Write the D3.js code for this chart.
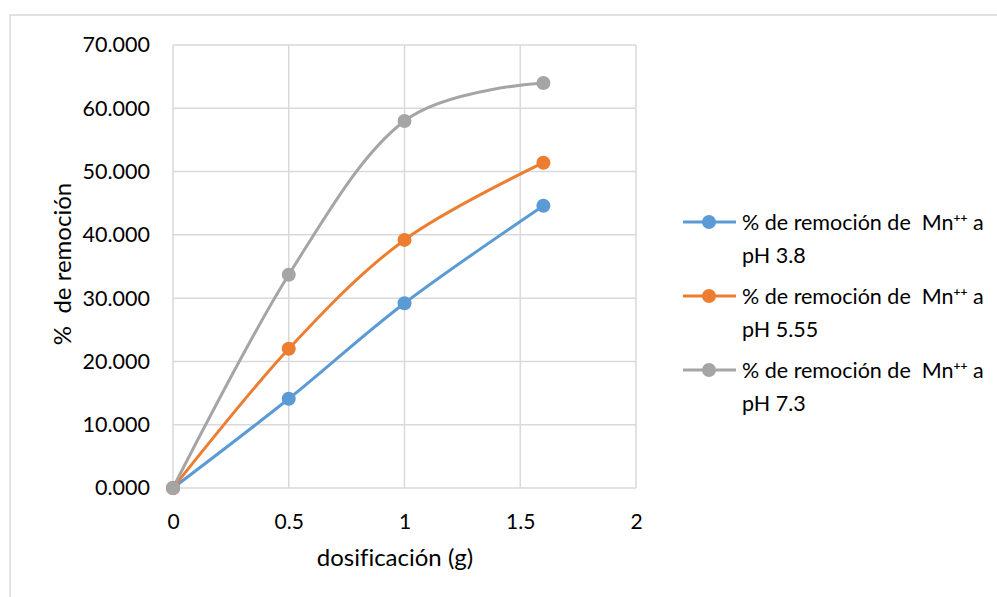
<!DOCTYPE html>
<html>
<head>
<meta charset="utf-8">
<script src="https://cdn.jsdelivr.net/npm/d3@7"></script>
<style>
  html, body { margin: 0; padding: 0; background: #fff; }
  svg { display: block; }
  text { font-family: Lato, "Liberation Sans", sans-serif; fill: #000; white-space: pre; font-variant-ligatures: none; }
</style>
</head>
<body>
<svg id="chart" width="997" height="597"></svg>
<script>
// Dose (g) applied in each trial
const dosis = [0, 0.5, 1, 1.6];

// Removal percentage of Mn++ for each pH
const remocionPH38 = [0, 14.1, 29.2, 44.6];
const remocionPH555 = [0, 22.0, 39.2, 51.4];
const remocionPH73 = [0, 33.7, 58.0, 64.0];

const seriesNames = ["pH 3.8", "pH 5.55", "pH 7.3"];
const seriesColors = ["#5B9BD5", "#ED7D31", "#A5A5A5"];

const xTicks = [0, 0.5, 1, 1.5, 2];
const yTicks = [0, 10, 20, 30, 40, 50, 60, 70];

const xTitle = "dosificación (g)";
const yTitle = "%  de remoción";

const series = [remocionPH38, remocionPH555, remocionPH73].map((vals, i) => ({
  name: seriesNames[i],
  color: seriesColors[i],
  points: dosis.map((d, j) => ({ x: d, y: vals[j] }))
}));

const svg = d3.select("#chart");

// outer chart frame (open to the right and bottom of the window)
svg.append("rect")
  .attr("x", 10).attr("y", 15)
  .attr("width", 1000).attr("height", 600)
  .attr("fill", "none")
  .attr("stroke", "#d9d9d9")
  .attr("stroke-width", 1.5);

const plot = { left: 173, right: 636, top: 45, bottom: 488 };

const x = d3.scaleLinear().domain([0, 2]).range([plot.left, plot.right]);
const y = d3.scaleLinear().domain([0, 70]).range([plot.bottom, plot.top]);

const grid = svg.append("g");
// vertical gridlines
grid.selectAll("line.v").data(xTicks).join("line")
  .attr("x1", d => x(d)).attr("x2", d => x(d))
  .attr("y1", plot.top).attr("y2", plot.bottom)
  .attr("stroke", "#d9d9d9").attr("stroke-width", 1.5);
// horizontal gridlines
grid.selectAll("line.h").data(yTicks).join("line")
  .attr("x1", plot.left).attr("x2", plot.right)
  .attr("y1", d => y(d)).attr("y2", d => y(d))
  .attr("stroke", "#d9d9d9").attr("stroke-width", 1.5);

// axes (labels only, lines come from the grid)
const xAxis = svg.append("g")
  .attr("transform", `translate(0,${plot.bottom})`)
  .call(d3.axisBottom(x).tickValues(xTicks).tickSize(0).tickPadding(26)
    .tickFormat(d => String(d)));
xAxis.select(".domain").remove();
xAxis.selectAll("text").style("font-size", "21px").attr("font-family", null);

const yAxis = svg.append("g")
  .attr("transform", `translate(${plot.left},0)`)
  .call(d3.axisLeft(y).tickValues(yTicks).tickSize(0).tickPadding(23)
    .tickFormat(d3.format(".3f")));
yAxis.select(".domain").remove();
yAxis.selectAll("text").style("font-size", "21.5px").attr("font-family", null);

// axis titles
svg.append("text")
  .attr("x", 395).attr("y", 566)
  .attr("text-anchor", "middle")
  .style("font-size", "24px")
  .text(xTitle);

svg.append("text")
  .attr("transform", "translate(71,264) rotate(-90)")
  .attr("text-anchor", "middle")
  .style("font-size", "24px")
  .text(yTitle);

// smoothed series lines
const line = d3.line()
  .x(d => x(d.x)).y(d => y(d.y))
  .curve(d3.curveCatmullRom.alpha(0));

const sg = svg.append("g");
series.forEach(s => {
  sg.append("path")
    .attr("d", line(s.points))
    .attr("fill", "none")
    .attr("stroke", s.color)
    .attr("stroke-width", 3)
    .attr("stroke-linecap", "round");
});
series.forEach(s => {
  sg.selectAll(null).data(s.points).join("circle")
    .attr("cx", d => x(d.x)).attr("cy", d => y(d.y))
    .attr("r", 7)
    .attr("fill", s.color);
});

// legend
const legend = svg.append("g");
series.forEach((s, i) => {
  const cy = 222 + i * 74;
  legend.append("line")
    .attr("x1", 683).attr("x2", 736)
    .attr("y1", cy).attr("y2", cy)
    .attr("stroke", s.color).attr("stroke-width", 3);
  legend.append("circle")
    .attr("cx", 709).attr("cy", cy).attr("r", 7)
    .attr("fill", s.color);
  const t = legend.append("text")
    .attr("x", 742).attr("y", cy + 8)
    .style("font-size", "21.5px");
  t.append("tspan").text("% de remoción de  Mn");
  t.append("tspan").attr("dy", -8).style("font-size", "12px").style("font-weight", "bold").text("++");
  t.append("tspan").attr("dy", 8).text(" a");
  legend.append("text")
    .attr("x", 742).attr("y", cy + 41)
    .style("font-size", "21.5px")
    .text(s.name);
});
</script>
</body>
</html>
